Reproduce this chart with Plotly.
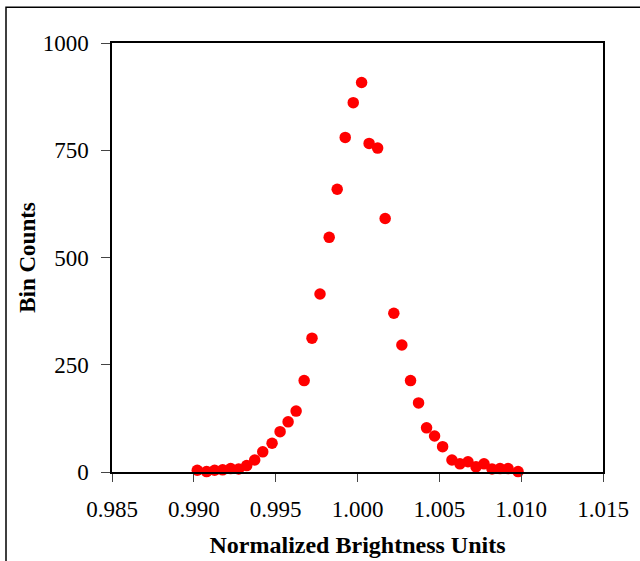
import plotly.graph_objects as go

brightness = [0.99021, 0.99078, 0.99127, 0.99176, 0.99225, 0.99274, 0.99323, 0.99372,
              0.99421, 0.99478, 0.99527, 0.99576, 0.99625, 0.99674, 0.99722, 0.99771,
              0.99827, 0.99876, 0.99925, 0.99974, 1.00025, 1.00071, 1.00123, 1.00169,
              1.00222, 1.00271, 1.00324, 1.00373, 1.00422, 1.00471, 1.00520, 1.00577,
              1.00626, 1.00675, 1.00724, 1.00773, 1.00822, 1.00871, 1.00920, 1.00981]
counts = [4, 1, 4, 5, 8, 7, 15, 28, 47, 67, 94, 117, 142, 213, 312, 415,
          547, 659, 780, 861, 908, 766, 755, 591, 370, 296, 213, 161, 103, 84,
          59, 28, 19, 24, 12, 19, 7, 8, 8, 1]

x_ticks = [0.985, 0.990, 0.995, 1.000, 1.005, 1.010, 1.015]
y_ticks = [0, 250, 500, 750, 1000]

font_family = "Liberation Serif, Times New Roman, serif"

fig = go.Figure()
fig.add_trace(go.Scatter(
    x=brightness, y=counts, mode="markers",
    marker=dict(color="#ff0000", size=11.5, line=dict(width=0)),
    showlegend=False, cliponaxis=False,
))

fig.update_layout(
    width=640, height=561,
    margin=dict(l=112, r=37, t=43, b=89, autoexpand=False),
    paper_bgcolor="white", plot_bgcolor="white",
    font=dict(family=font_family, size=23, color="black"),
    xaxis=dict(
        range=[0.985, 1.015], tickvals=x_ticks,
        ticktext=[f"{v:.3f}" for v in x_ticks],
        showgrid=False, zeroline=False, automargin=False,
        showline=True, linecolor="black", linewidth=1.5, mirror=True,
        ticks="outside", ticklen=8, tickwidth=1.3, tickcolor="#444",
        ticklabelstandoff=8,
        title=dict(text="<b>Normalized Brightness Units</b>", font=dict(size=24), standoff=15),
    ),
    yaxis=dict(
        range=[0, 1000], tickvals=y_ticks,
        showgrid=False, zeroline=False, automargin=False,
        showline=True, linecolor="black", linewidth=1.5, mirror=True,
        ticks="outside", ticklen=9, tickwidth=1.3, tickcolor="#444",
        ticklabelstandoff=8,
        title=dict(text="<b>Bin Counts</b>", font=dict(size=23), standoff=1),
    ),
    shapes=[
        dict(type="rect", xref="paper", yref="paper",
             x0=(6 - 112) / 491, x1=(660 - 112) / 491,
             y0=(472 - 580) / 429.3, y1=(472 - 7) / 429.3,
             line=dict(color="black", width=1.5), fillcolor="rgba(0,0,0,0)",
             layer="below"),
    ],
)

fig.write_html("out.html")
